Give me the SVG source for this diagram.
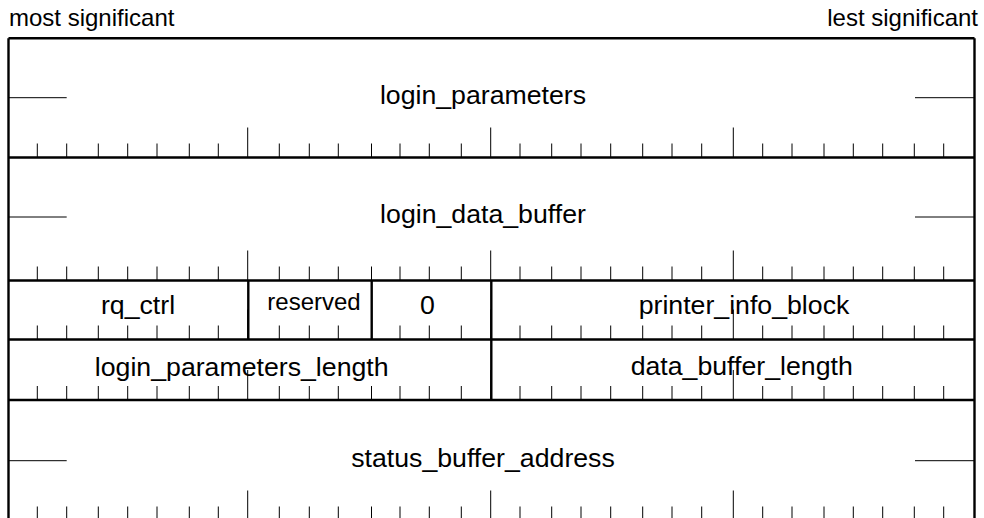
<svg xmlns="http://www.w3.org/2000/svg" width="984" height="518" viewBox="0 0 984 518">
  <style>
    .frame { stroke: #000; stroke-width: 2.4; fill: none; }
    .thin { stroke: #000; stroke-width: 1; fill: none; }
    .lbl { font-family: "Liberation Sans", Arial, Helvetica, sans-serif; font-size: 26.7px; fill: #000; text-anchor: middle; }
    .small { font-size: 24px; }
    .edge { font-family: "Liberation Sans", Arial, Helvetica, sans-serif; font-size: 24px; fill: #000; }
  </style>
  <defs>
    <!-- one row of bit ticks: 31 ticks, every 8th one long (byte boundary) -->
    <path id="ticks" class="thin" d="M37.3 0v-14M66.7 0v-14M98.3 0v-14M127.7 0v-14M157 0v-14M189.3 0v-14M218.3 0v-14M247.7 0v-30M279.3 0v-14M309.3 0v-14M338.3 0v-14M371.5 0v-14M400 0v-14M429.3 0v-14M461.3 0v-14M490.7 0v-30M520 0v-14M551.7 0v-14M581 0v-14M610.7 0v-14M642.7 0v-14M672 0v-14M701.7 0v-14M733.3 0v-30M762.7 0v-14M792 0v-14M824 0v-14M853.3 0v-14M882.7 0v-14M914.3 0v-14M943.7 0v-14"/>
    <!-- side dashes marking a multi-word field -->
    <path id="dashes" class="thin" d="M8.5 0H66.7M915 0H974.5"/>
  </defs>

  <rect width="984" height="518" fill="#fff"/>

  <text class="edge" x="9" y="26">most significant</text>
  <text class="edge" x="978" y="26" text-anchor="end">lest significant</text>

  <g id="login_parameters">
    <use href="#ticks" y="157.5"/>
    <use href="#dashes" y="97.7"/>
    <text class="lbl" x="483" y="104">login_parameters</text>
  </g>

  <g id="login_data_buffer">
    <use href="#ticks" y="280.5"/>
    <use href="#dashes" y="217"/>
    <text class="lbl" x="483" y="223">login_data_buffer</text>
  </g>

  <g id="rq_ctrl">
    <use href="#ticks" y="339.5"/>
    <text class="lbl" x="138" y="314">rq_ctrl</text>
  </g>
  <g id="reserved">
    <text class="lbl small" x="314" y="310">reserved</text>
  </g>
  <g id="zero">
    <text class="lbl" x="427.5" y="314">0</text>
  </g>
  <g id="printer_info_block">
    <text class="lbl" x="744" y="314">printer_info_block</text>
  </g>

  <g id="login_parameters_length">
    <use href="#ticks" y="400"/>
    <text class="lbl" x="241.7" y="376">login_parameters_length</text>
  </g>
  <g id="data_buffer_length">
    <text class="lbl" x="741.7" y="375">data_buffer_length</text>
  </g>

  <g id="status_buffer_address">
    <use href="#ticks" y="520.5"/>
    <use href="#dashes" y="460.7"/>
    <text class="lbl" x="483" y="466.7">status_buffer_address</text>
  </g>

  <!-- word boundaries and field dividers -->
  <g id="frame" class="frame">
    <path d="M8.5 38.3V520M974.5 38.3V520"/>
    <path d="M8.5 38.3H974.5M8.5 157.5H974.5M8.5 280.5H974.5M8.5 339.5H974.5M8.5 400H974.5"/>
    <path d="M248.3 280.5V339.5M371.7 280.5V339.5M491.3 280.5V400"/>
  </g>
</svg>
